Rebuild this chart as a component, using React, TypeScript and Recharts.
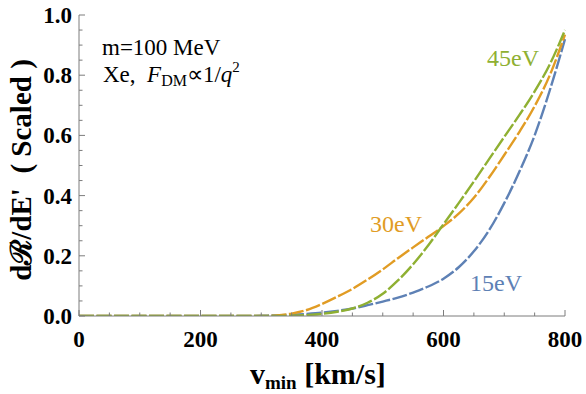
import { LineChart, Line, XAxis, YAxis } from "recharts";

// v_min [km/s]
const vMin = [0, 25, 50, 75, 100, 125, 150, 175, 200, 225, 250, 275, 300, 325, 350, 375, 400, 425, 450, 475, 500, 525, 550, 575, 600, 625, 650, 675, 700, 725, 750, 775, 800];
// scaled dR/dE' per threshold
const rate15eV = [0, 0, 0, 0, 0, 0, 0, 0, 0, 0, 0, 0, 0.001, 0.002, 0.004, 0.007, 0.011, 0.017, 0.025, 0.036, 0.048, 0.061, 0.078, 0.098, 0.124, 0.162, 0.215, 0.285, 0.375, 0.48, 0.6, 0.75, 0.92];
const rate30eV = [0, 0, 0, 0, 0, 0, 0, 0, 0, 0, 0, 0, 0, 0.002, 0.008, 0.02, 0.04, 0.064, 0.09, 0.121, 0.155, 0.192, 0.228, 0.263, 0.299, 0.34, 0.393, 0.46, 0.535, 0.612, 0.697, 0.8, 0.935];
const rate45eV = [0, 0, 0, 0, 0, 0, 0, 0, 0, 0, 0, 0, 0, 0, 0.001, 0.003, 0.007, 0.014, 0.025, 0.044, 0.074, 0.118, 0.172, 0.235, 0.305, 0.375, 0.447, 0.521, 0.595, 0.668, 0.746, 0.836, 0.95];

const xTicks = [0, 50, 100, 150, 200, 250, 300, 350, 400, 450, 500, 550, 600, 650, 700, 750, 800];
const xMajor = [0, 200, 400, 600, 800];
const yTicks = [0, 0.05, 0.1, 0.15, 0.2, 0.25, 0.3, 0.35, 0.4, 0.45, 0.5, 0.55, 0.6, 0.65, 0.7, 0.75, 0.8, 0.85, 0.9, 0.95, 1];
const yMajor = [0, 0.2, 0.4, 0.6, 0.8, 1];

const rows = vMin.map((v, i) => ({ v, r15: rate15eV[i], r30: rate30eV[i], r45: rate45eV[i] }));

const FRAME = "#7c7c7c";
const SERIF = "'Liberation Serif', 'Times New Roman', serif";
const BLUE = "#5e81b5";
const ORANGE = "#e19c24";
const GREEN = "#8fb032";
const DASH = "15 2.5";

const isMajorY = (v: number) => yMajor.some(m => Math.abs(m - v) < 1e-6);

const BottomTick = (p: any) => {
  const major = xMajor.includes(p.payload.value);
  return (
    <g>
      <line x1={p.x} x2={p.x} y1={p.y} y2={p.y - (major ? 6 : 3.5)} stroke={FRAME} />
      {major && (
        <text x={p.x} y={p.y + 31} textAnchor="middle" fontFamily={SERIF} fontWeight="bold" fontSize={23} fill="#000">
          {p.payload.value}
        </text>
      )}
    </g>
  );
};

const TopTick = (p: any) => {
  const major = xMajor.includes(p.payload.value);
  return <line x1={p.x} x2={p.x} y1={p.y} y2={p.y + (major ? 6 : 3.5)} stroke={FRAME} />;
};

const LeftTick = (p: any) => {
  const major = isMajorY(p.payload.value);
  return (
    <g>
      <line x1={p.x} x2={p.x + (major ? 6 : 3.5)} y1={p.y} y2={p.y} stroke={FRAME} />
      {major && (
        <text x={p.x - 7} y={p.y + 8} textAnchor="end" fontFamily={SERIF} fontWeight="bold" fontSize={23} fill="#000">
          {p.payload.value.toFixed(1)}
        </text>
      )}
    </g>
  );
};

const RightTick = (p: any) => {
  const major = isMajorY(p.payload.value);
  return <line x1={p.x} x2={p.x - (major ? 6 : 3.5)} y1={p.y} y2={p.y} stroke={FRAME} />;
};

export default function App() {
  return (
    <div style={{ position: "absolute", left: 0, top: 0, width: 586, height: 394, background: "#fff" }}>
      <LineChart width={586} height={394} data={rows} margin={{ top: 15, right: 21, left: 0, bottom: 0 }}>
        <XAxis xAxisId="b" dataKey="v" type="number" domain={[0, 800]} ticks={xTicks} interval={0}
          height={78} tickSize={0} tickMargin={0} tickLine={false} axisLine={{ stroke: FRAME }} tick={BottomTick} />
        <XAxis xAxisId="t" orientation="top" dataKey="v" type="number" domain={[0, 800]} ticks={xTicks} interval={0}
          height={0} tickSize={0} tickMargin={0} tickLine={false} axisLine={{ stroke: FRAME }} tick={TopTick} />
        <YAxis yAxisId="l" type="number" domain={[0, 1]} ticks={yTicks} interval={0} allowDataOverflow
          width={79} tickSize={0} tickMargin={0} tickLine={false} axisLine={{ stroke: FRAME }} tick={LeftTick} />
        <YAxis yAxisId="r" orientation="right" type="number" domain={[0, 1]} ticks={yTicks} interval={0} allowDataOverflow
          width={0} tickSize={0} tickMargin={0} tickLine={false} axisLine={{ stroke: FRAME }} tick={RightTick} />
        <Line xAxisId="b" yAxisId="l" type="monotone" dataKey="r15" stroke={BLUE} strokeWidth={2.4}
          strokeDasharray={DASH} dot={false} isAnimationActive={false} />
        <Line xAxisId="b" yAxisId="l" type="monotone" dataKey="r30" stroke={ORANGE} strokeWidth={2.4}
          strokeDasharray={DASH} dot={false} isAnimationActive={false} />
        <Line xAxisId="b" yAxisId="l" type="monotone" dataKey="r45" stroke={GREEN} strokeWidth={2.4}
          strokeDasharray={DASH} dot={false} isAnimationActive={false} />
      </LineChart>
      <svg width={586} height={394} style={{ position: "absolute", left: 0, top: 0, pointerEvents: "none" }}>
        <g fontFamily={SERIF} fill="#000">
          <text x={102} y={55} fontSize={23}>m=100 MeV</text>
          <text x={103} y={82} fontSize={23} style={{ whiteSpace: "pre" }}>
            <tspan>Xe,  </tspan>
            <tspan fontStyle="italic">F</tspan>
            <tspan fontSize={16} dy={4}>DM</tspan>
            <tspan dy={-4}>∝1/</tspan>
            <tspan fontStyle="italic">q</tspan>
            <tspan fontSize={15} dy={-10}>2</tspan>
          </text>
        </g>
        <text x={487} y={66} fontFamily={SERIF} fontSize={24} fill={GREEN}>45eV</text>
        <text x={370} y={232} fontFamily={SERIF} fontSize={24} fill={ORANGE}>30eV</text>
        <text x={470} y={291} fontFamily={SERIF} fontSize={24} fill={BLUE}>15eV</text>
        <text x={250} y={384} fontFamily={SERIF} fontWeight="bold" fontSize={30} fill="#000" style={{ whiteSpace: "pre" }}>
          <tspan>v</tspan>
          <tspan fontSize={19} dy={5}>min</tspan>
          <tspan dy={-5}> [km/s]</tspan>
        </text>
        <text transform="translate(31,170) rotate(-90)" textAnchor="middle" fontFamily={SERIF} fontWeight="bold"
          fontSize={29} fill="#000" style={{ whiteSpace: "pre" }}>
          dℛ/dE'  ( Scaled )
        </text>
      </svg>
    </div>
  );
}
